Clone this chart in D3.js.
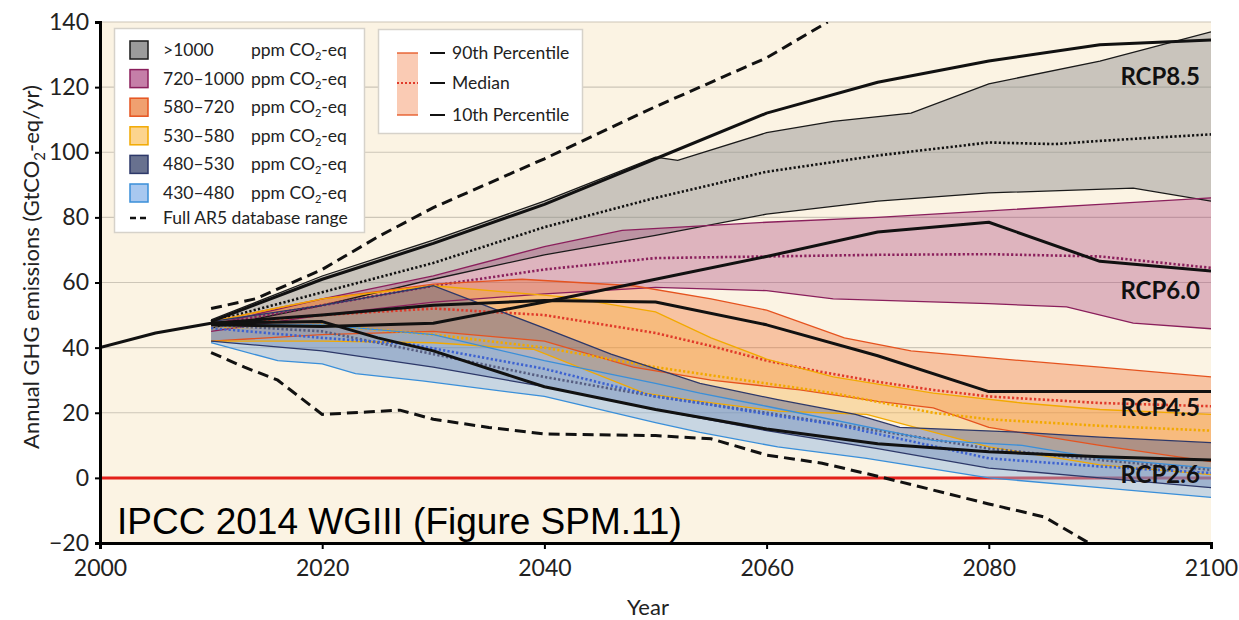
<!DOCTYPE html>
<html>
<head>
<meta charset="utf-8">
<script src="https://cdn.jsdelivr.net/npm/d3@7"></script>
<style>
  body { margin: 0; background: #fff; }
  text { font-family: Lato, "Noto Sans", sans-serif; fill: #222; }
</style>
</head>
<body>
<div id="chart"></div>
<script>
// historical emissions and RCP marker pathways (GtCO2-eq/yr)
const historical = [[2000, 40], [2005, 44.5], [2010, 47.5]]
const rcp85 = [[2010, 48], [2020, 61], [2030, 72], [2040, 84], [2050, 98], [2060, 112], [2070, 121.5], [2080, 128], [2090, 133], [2100, 134.5]]
const rcp60 = [[2010, 47], [2020, 46.5], [2030, 47.5], [2040, 54], [2050, 61], [2060, 68], [2070, 75.5], [2080, 78.5], [2090, 66.5], [2100, 63.5]]
const rcp45 = [[2010, 47.5], [2020, 50], [2030, 53], [2040, 54.5], [2050, 54], [2060, 47], [2070, 37.5], [2080, 26.5], [2100, 26.5]]
const rcp26 = [[2010, 47.5], [2020, 48], [2025, 43], [2030, 39], [2040, 28], [2050, 21], [2060, 15], [2070, 10.5], [2080, 8], [2090, 6.5], [2100, 5.5]]

// full AR5 database range
const ar5Upper = [[2010, 52], [2014, 55], [2018, 61], [2020, 64], [2025, 74], [2030, 83], [2040, 98], [2050, 114], [2060, 129], [2065.5, 140]]
const ar5Lower = [[2010, 38.5], [2013, 34], [2016, 30], [2020, 19.5], [2024, 20.2], [2027, 20.8], [2030, 18], [2035, 15.5], [2040, 13.5], [2050, 13], [2055, 12], [2060, 7], [2065, 4.5], [2070, 0.5], [2080, -8], [2085, -12], [2089, -20]]

// categories: 90th percentile / median / 10th percentile
const categories = [">1000", "720–1000", "580–720", "530–580", "480–530", "430–480"]
const p90 = [
  [[2010, 48.5], [2020, 62], [2030, 73], [2040, 85], [2050, 98.5], [2052, 97.5], [2060, 106], [2066, 109.5], [2073, 112], [2080, 121], [2090, 128], [2100, 137]],
  [[2010, 47], [2020, 55], [2030, 62], [2040, 71], [2047, 76], [2060, 78.5], [2070, 80], [2080, 82], [2090, 84], [2100, 86]],
  [[2010, 48], [2020, 55], [2030, 59.5], [2038, 61], [2048, 59], [2055, 55], [2060, 51.5], [2067, 43], [2073, 39], [2083, 36], [2090, 34], [2100, 31]],
  [[2010, 48], [2020, 55], [2030, 59], [2042, 55.5], [2050, 51], [2055, 43], [2060, 36.5], [2066, 31], [2075, 26], [2083, 23], [2090, 21], [2100, 19.5]],
  [[2010, 48], [2020, 53], [2030, 59], [2040, 46], [2046, 38], [2054, 29], [2061, 24], [2068, 19.5], [2072, 15.5], [2083, 14], [2090, 12.5], [2100, 10.8]],
  [[2010, 47], [2020, 47], [2030, 44], [2040, 36], [2050, 29], [2054, 26], [2060, 22], [2075, 11.5], [2083, 10], [2090, 6], [2100, 3]]
]
const median = [
  [[2010, 48], [2020, 57], [2030, 66], [2040, 77], [2050, 86], [2060, 94], [2070, 99], [2080, 103], [2086, 102.5], [2090, 103.5], [2100, 105.5]],
  [[2010, 47], [2020, 53], [2030, 59], [2040, 64], [2050, 67.5], [2060, 68], [2070, 68.5], [2080, 68.7], [2090, 68], [2100, 64.5]],
  [[2010, 47], [2020, 50], [2030, 52], [2040, 50], [2050, 44.5], [2055, 40.5], [2060, 36], [2065, 32.5], [2070, 29.5], [2075, 27], [2080, 25], [2090, 23], [2100, 22]],
  [[2010, 46], [2020, 47], [2030, 44], [2040, 40], [2050, 34], [2060, 29], [2066, 26], [2075, 20], [2080, 18], [2090, 16], [2100, 14.5]],
  [[2010, 47], [2020, 45], [2030, 38], [2040, 31], [2050, 25], [2060, 20], [2070, 14.5], [2080, 9], [2090, 5.5], [2100, 2.5]],
  [[2010, 46], [2020, 43], [2028, 41], [2040, 33.5], [2050, 25], [2054, 23], [2061, 19], [2066, 16.5], [2080, 6], [2090, 3.5], [2100, 1.5]]
]
const p10 = [
  [[2010, 46], [2020, 53], [2030, 61], [2040, 68.5], [2050, 74.5], [2060, 81], [2070, 85], [2080, 87.5], [2093, 89], [2100, 85]],
  [[2010, 45], [2020, 50], [2030, 54], [2040, 56.5], [2050, 58.5], [2060, 57.5], [2066, 55], [2080, 53.5], [2087, 52.5], [2093, 47.5], [2100, 45.8]],
  [[2010, 42], [2020, 44], [2030, 45], [2040, 42], [2048, 34], [2055, 30], [2063, 27], [2070, 23.5], [2075, 21.5], [2080, 15.5], [2090, 10], [2100, 5]],
  [[2010, 42], [2020, 42], [2030, 41.5], [2039, 39.5], [2049, 26], [2054, 23.5], [2061, 20.5], [2069, 19.5], [2080, 9.5], [2090, 4], [2100, 1]],
  [[2010, 42], [2020, 39], [2030, 34], [2040, 28], [2050, 21], [2060, 14.5], [2070, 9], [2080, 3], [2090, 0], [2100, -3]],
  [[2010, 41.5], [2016, 36], [2020, 35], [2023, 32], [2029, 29.8], [2040, 25], [2050, 17], [2054, 14], [2061, 9.5], [2069, 6], [2080, 0], [2090, -3], [2100, -6]]
]

const rcpLabels = ["RCP8.5", "RCP6.0", "RCP4.5", "RCP2.6"]
const rcpLabelValues = [120.5, 55, 19, -1.5]
const yTicks = [-20, 0, 20, 40, 60, 80, 100, 120, 140]
const xTicks = [2000, 2020, 2040, 2060, 2080, 2100]

const fills = ["#8c8c8c", "#a3306f", "#f07030", "#f8b040", "#4a5890", "#8ab4e0"]
const fillOpacity = [0.45, 0.32, 0.36, 0.36, 0.42, 0.45]
const strokes = ["#1a1a1a", "#8a1f5c", "#e5531f", "#f2a900", "#2d3869", "#3a8fd9"]
const medianStrokes = ["#111", "#8a1f5c", "#e03a2a", "#f2a900", "#565d80", "#3d62d0"]
const swatchFills = ["#9b9b9b", "#c57fa8", "#f0a070", "#fcd48e", "#68718f", "#a8c8f0"]

const width = 1239
const height = 620
const margin = {top: 22, right: 28, bottom: 77, left: 100}

const svg = d3.select('#chart').append('svg')
    .attr('width', width)
    .attr('height', height)

const x = d3.scaleLinear().domain([2000, 2100]).range([margin.left, width - margin.right])
const y = d3.scaleLinear().domain([-20, 140]).range([height - margin.bottom, margin.top])

//plot background
svg.append('rect')
    .attr('x', x(2000)).attr('y', y(140))
    .attr('width', x(2100) - x(2000)).attr('height', y(-20) - y(140))
    .attr('fill', '#fbf3e3')

svg.append('clipPath').attr('id', 'plot-clip')
    .append('rect')
    .attr('x', x(2000)).attr('y', y(140))
    .attr('width', x(2100) - x(2000)).attr('height', y(-20) - y(140))

//gridlines
svg.append('g')
    .selectAll('line')
    .data(yTicks.filter(d => d !== -20))
    .join('line')
    .attr('x1', x(2000)).attr('x2', x(2100))
    .attr('y1', d => y(d)).attr('y2', d => y(d))
    .attr('stroke', '#cdc6b8')
    .attr('stroke-width', 1.2)

const plot = svg.append('g').attr('clip-path', 'url(#plot-clip)')

//zero line
plot.append('line')
    .attr('x1', x(2000)).attr('x2', x(2100))
    .attr('y1', y(0)).attr('y2', y(0))
    .attr('stroke', '#e3201b')
    .attr('stroke-width', 3)

const line = d3.line().x(d => x(d[0])).y(d => y(d[1]))

//category bands
categories.forEach((c, i) => {
    const lo = p10[i]
    const hi = p90[i]
    const poly = hi.concat(lo.slice().reverse())
    plot.append('path')
        .attr('d', line(poly) + 'Z')
        .attr('fill', fills[i])
        .attr('fill-opacity', fillOpacity[i])
})

categories.forEach((c, i) => {
    [p90[i], p10[i]].forEach(s => {
        plot.append('path')
            .attr('d', line(s))
            .attr('fill', 'none')
            .attr('stroke', strokes[i])
            .attr('stroke-width', 1.3)
    })
    plot.append('path')
        .attr('d', line(median[i]))
        .attr('fill', 'none')
        .attr('stroke', medianStrokes[i])
        .attr('stroke-width', 2.6)
        .attr('stroke-dasharray', '2.2,2.2')
})

//full AR5 range
;[ar5Upper, ar5Lower].forEach(s => {
    plot.append('path')
        .attr('d', line(s))
        .attr('fill', 'none')
        .attr('stroke', '#111')
        .attr('stroke-width', 3)
        .attr('stroke-dasharray', '11,6')
})

//RCP pathways and history
;[historical, rcp85, rcp60, rcp45, rcp26].forEach(s => {
    plot.append('path')
        .attr('d', line(s))
        .attr('fill', 'none')
        .attr('stroke', '#111')
        .attr('stroke-width', 3)
        .attr('stroke-linejoin', 'round')
})

//RCP labels
svg.append('g')
    .selectAll('text')
    .data(rcpLabels)
    .join('text')
    .attr('x', x(2099))
    .attr('y', (d, i) => y(rcpLabelValues[i]))
    .attr('text-anchor', 'end')
    .style('font-size', '24px')
    .style('font-weight', 'bold')
    .style('fill', '#111')
    .text(d => d)

//watermark text
svg.append('text')
    .attr('x', 117)
    .attr('y', 534)
    .style('font-family', '"Liberation Sans", Arial, sans-serif')
    .style('font-size', '37px')
    .style('fill', '#000')
    .text('IPCC 2014 WGIII (Figure SPM.11)')

//axes
const yAxis = svg.append('g')
    .attr('transform', `translate(${x(2000)},0)`)
    .call(d3.axisLeft(y).tickValues(yTicks).tickSize(5).tickPadding(6)
        .tickFormat(d => d < 0 ? '−' + Math.abs(d) : d))
yAxis.select('.domain').attr('stroke', '#000').attr('stroke-width', 3)
yAxis.selectAll('.tick line').attr('stroke', '#000').attr('stroke-width', 2)
yAxis.selectAll('.tick text').style('font-size', '23px').style('font-family', 'Lato, sans-serif').attr('fill', '#222')

const xAxis = svg.append('g')
    .attr('transform', `translate(0,${y(-20)})`)
    .call(d3.axisBottom(x).tickValues(xTicks).tickSize(6).tickPadding(11).tickFormat(d3.format('d')))
xAxis.select('.domain').attr('stroke', '#000').attr('stroke-width', 3)
xAxis.selectAll('.tick line').attr('stroke', '#000').attr('stroke-width', 2)
xAxis.selectAll('.tick text').style('font-size', '23px').style('font-family', 'Lato, sans-serif').attr('fill', '#222')

svg.append('text')
    .attr('x', 648)
    .attr('y', 615)
    .attr('text-anchor', 'middle')
    .style('font-size', '22px')
    .text('Year')

const yTitle = svg.append('text')
    .attr('transform', `translate(39,267) rotate(-90)`)
    .attr('text-anchor', 'middle')
    .style('font-size', '22px')
yTitle.append('tspan').text('Annual GHG emissions (GtCO')
yTitle.append('tspan').attr('dy', 6).style('font-size', '15px').text('2')
yTitle.append('tspan').attr('dy', -6).text('-eq/yr)')

//category legend
const legend = svg.append('g')
legend.append('rect')
    .attr('x', 114.5).attr('y', 28.5).attr('width', 250).attr('height', 204)
    .attr('fill', '#fff').attr('stroke', '#d6d2ca').attr('stroke-width', 1.5)

const rowY = d3.scaleLinear().domain([0, 5]).range([50, 193])
const rows = legend.selectAll('g.row')
    .data(categories)
    .join('g')
    .attr('class', 'row')
    .attr('transform', (d, i) => `translate(0,${rowY(i)})`)
rows.append('rect')
    .attr('x', 130).attr('y', -9).attr('width', 18).attr('height', 18)
    .attr('fill', (d, i) => swatchFills[i])
    .attr('stroke', (d, i) => strokes[i])
    .attr('stroke-width', 1.5)
rows.append('text')
    .attr('x', 163).attr('y', 6)
    .style('font-size', '17.5px')
    .text(d => d)
const ppm = rows.append('text')
    .attr('x', 251).attr('y', 6)
    .style('font-size', '17.5px')
ppm.append('tspan').text('ppm CO')
ppm.append('tspan').attr('dy', 4).style('font-size', '11px').text('2')
ppm.append('tspan').attr('dy', -4).text('-eq')

legend.append('line')
    .attr('x1', 130).attr('x2', 150).attr('y1', 218).attr('y2', 218)
    .attr('stroke', '#111').attr('stroke-width', 2.5).attr('stroke-dasharray', '6,4')
legend.append('text')
    .attr('x', 163).attr('y', 224)
    .style('font-size', '17.5px')
    .text('Full AR5 database range')

//percentile legend
const pctLabels = ['90th Percentile', 'Median', '10th Percentile']
const pctY = [53, 83, 115]
const pct = svg.append('g')
pct.append('rect')
    .attr('x', 378.5).attr('y', 29.5).attr('width', 204).attr('height', 104)
    .attr('fill', '#fff').attr('stroke', '#d6d2ca').attr('stroke-width', 1.5)
pct.append('rect')
    .attr('x', 397).attr('y', pctY[0]).attr('width', 21).attr('height', pctY[2] - pctY[0])
    .attr('fill', fills[2]).attr('fill-opacity', 0.36)
pct.selectAll('line.edge')
    .data([pctY[0], pctY[2]])
    .join('line')
    .attr('x1', 397).attr('x2', 418).attr('y1', d => d).attr('y2', d => d)
    .attr('stroke', strokes[2]).attr('stroke-width', 1.3)
pct.append('line')
    .attr('x1', 397).attr('x2', 418).attr('y1', pctY[1]).attr('y2', pctY[1])
    .attr('stroke', medianStrokes[2]).attr('stroke-width', 2).attr('stroke-dasharray', '2,2')
pct.selectAll('line.tick')
    .data(pctY)
    .join('line')
    .attr('x1', 430).attr('x2', 445).attr('y1', d => d).attr('y2', d => d)
    .attr('stroke', '#111').attr('stroke-width', 2)
pct.selectAll('text')
    .data(pctLabels)
    .join('text')
    .attr('x', 452).attr('y', (d, i) => pctY[i] + 6)
    .style('font-size', '17.5px')
    .text(d => d)
</script>
</body>
</html>
